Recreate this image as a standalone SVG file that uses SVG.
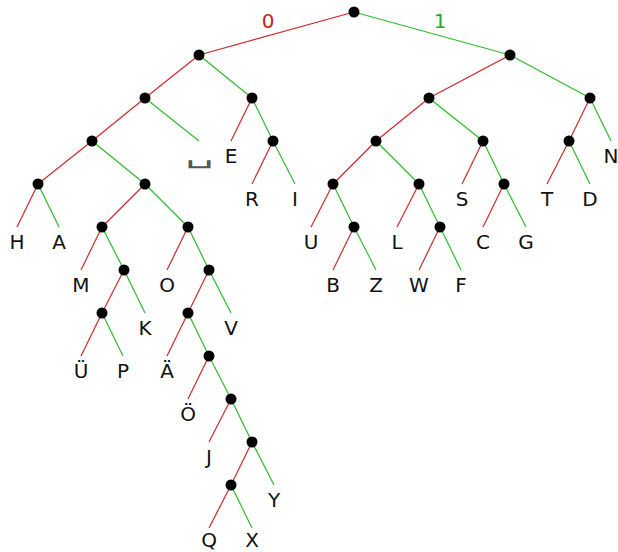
<svg xmlns="http://www.w3.org/2000/svg" width="618" height="552" viewBox="0 0 618 552">
<style>
.r{stroke:#cc2a2a;stroke-width:1.2;fill:none}
.g{stroke:#2cbb2c;stroke-width:1.2;fill:none}
.n{fill:#000}
text{font-family:"DejaVu Sans","Liberation Sans",sans-serif;font-size:20px;text-anchor:middle;fill:#111}
.sp{fill:#555}
.lr{fill:#cc2222}
.lg{fill:#22aa22}
</style>
<rect width="618" height="552" fill="#fff"/>
<g id="connectors">
<line class="r" x1="354" y1="12" x2="199" y2="55"/>
<line class="g" x1="354" y1="12" x2="510" y2="55"/>
<line class="r" x1="199" y1="55" x2="145" y2="98"/>
<line class="g" x1="199" y1="55" x2="252" y2="98"/>
<line class="r" x1="145" y1="98" x2="92" y2="141"/>
<line class="g" x1="145" y1="98" x2="199" y2="141"/>
<line class="r" x1="92" y1="141" x2="38" y2="184"/>
<line class="g" x1="92" y1="141" x2="145" y2="184"/>
<line class="r" x1="38" y1="184" x2="17" y2="227"/>
<line class="g" x1="38" y1="184" x2="59" y2="227"/>
<line class="r" x1="145" y1="184" x2="102" y2="227"/>
<line class="g" x1="145" y1="184" x2="188" y2="227"/>
<line class="r" x1="102" y1="227" x2="81" y2="270"/>
<line class="g" x1="102" y1="227" x2="124" y2="270"/>
<line class="r" x1="124" y1="270" x2="102" y2="313"/>
<line class="g" x1="124" y1="270" x2="145" y2="313"/>
<line class="r" x1="102" y1="313" x2="81" y2="356"/>
<line class="g" x1="102" y1="313" x2="123" y2="356"/>
<line class="r" x1="188" y1="227" x2="167" y2="270"/>
<line class="g" x1="188" y1="227" x2="209" y2="270"/>
<line class="r" x1="209" y1="270" x2="188" y2="313"/>
<line class="g" x1="209" y1="270" x2="231" y2="313"/>
<line class="r" x1="188" y1="313" x2="167" y2="356"/>
<line class="g" x1="188" y1="313" x2="209" y2="356"/>
<line class="r" x1="209" y1="356" x2="188" y2="399"/>
<line class="g" x1="209" y1="356" x2="231" y2="399"/>
<line class="r" x1="231" y1="399" x2="209" y2="442"/>
<line class="g" x1="231" y1="399" x2="252" y2="442"/>
<line class="r" x1="252" y1="442" x2="231" y2="485"/>
<line class="g" x1="252" y1="442" x2="274" y2="485"/>
<line class="r" x1="231" y1="485" x2="209" y2="528"/>
<line class="g" x1="231" y1="485" x2="252" y2="528"/>
<line class="r" x1="252" y1="98" x2="231" y2="141"/>
<line class="g" x1="252" y1="98" x2="273" y2="141"/>
<line class="r" x1="273" y1="141" x2="252" y2="184"/>
<line class="g" x1="273" y1="141" x2="295" y2="184"/>
<line class="r" x1="510" y1="55" x2="429" y2="98"/>
<line class="g" x1="510" y1="55" x2="590" y2="98"/>
<line class="r" x1="429" y1="98" x2="376" y2="141"/>
<line class="g" x1="429" y1="98" x2="483" y2="141"/>
<line class="r" x1="376" y1="141" x2="333" y2="184"/>
<line class="g" x1="376" y1="141" x2="419" y2="184"/>
<line class="r" x1="333" y1="184" x2="311" y2="227"/>
<line class="g" x1="333" y1="184" x2="354" y2="227"/>
<line class="r" x1="354" y1="227" x2="333" y2="270"/>
<line class="g" x1="354" y1="227" x2="376" y2="270"/>
<line class="r" x1="419" y1="184" x2="397" y2="227"/>
<line class="g" x1="419" y1="184" x2="440" y2="227"/>
<line class="r" x1="440" y1="227" x2="419" y2="270"/>
<line class="g" x1="440" y1="227" x2="461" y2="270"/>
<line class="r" x1="483" y1="141" x2="462" y2="184"/>
<line class="g" x1="483" y1="141" x2="504" y2="184"/>
<line class="r" x1="504" y1="184" x2="483" y2="227"/>
<line class="g" x1="504" y1="184" x2="526" y2="227"/>
<line class="r" x1="590" y1="98" x2="569" y2="141"/>
<line class="g" x1="590" y1="98" x2="611" y2="141"/>
<line class="r" x1="569" y1="141" x2="547" y2="184"/>
<line class="g" x1="569" y1="141" x2="590" y2="184"/>
<text class="lr" x="268" y="28">0</text>
<text class="lg" x="440" y="28">1</text>
</g>
<g id="root"><circle class="n" cx="354" cy="12" r="5.5"/></g>
<g id="n0"><circle class="n" cx="199" cy="55" r="5.5"/></g>
<g id="n00"><circle class="n" cx="145" cy="98" r="5.5"/></g>
<g id="n000"><circle class="n" cx="92" cy="141" r="5.5"/></g>
<g id="n0000"><circle class="n" cx="38" cy="184" r="5.5"/></g>
<g id="n0001"><circle class="n" cx="145" cy="184" r="5.5"/></g>
<g id="n00010"><circle class="n" cx="102" cy="227" r="5.5"/></g>
<g id="n000101"><circle class="n" cx="124" cy="270" r="5.5"/></g>
<g id="n0001010"><circle class="n" cx="102" cy="313" r="5.5"/></g>
<g id="n00011"><circle class="n" cx="188" cy="227" r="5.5"/></g>
<g id="n000111"><circle class="n" cx="209" cy="270" r="5.5"/></g>
<g id="n0001110"><circle class="n" cx="188" cy="313" r="5.5"/></g>
<g id="n00011101"><circle class="n" cx="209" cy="356" r="5.5"/></g>
<g id="n000111011"><circle class="n" cx="231" cy="399" r="5.5"/></g>
<g id="n0001110111"><circle class="n" cx="252" cy="442" r="5.5"/></g>
<g id="n00011101110"><circle class="n" cx="231" cy="485" r="5.5"/></g>
<g id="n01"><circle class="n" cx="252" cy="98" r="5.5"/></g>
<g id="n011"><circle class="n" cx="273" cy="141" r="5.5"/></g>
<g id="n1"><circle class="n" cx="510" cy="55" r="5.5"/></g>
<g id="n10"><circle class="n" cx="429" cy="98" r="5.5"/></g>
<g id="n100"><circle class="n" cx="376" cy="141" r="5.5"/></g>
<g id="n1000"><circle class="n" cx="333" cy="184" r="5.5"/></g>
<g id="n10001"><circle class="n" cx="354" cy="227" r="5.5"/></g>
<g id="n1001"><circle class="n" cx="419" cy="184" r="5.5"/></g>
<g id="n10011"><circle class="n" cx="440" cy="227" r="5.5"/></g>
<g id="n101"><circle class="n" cx="483" cy="141" r="5.5"/></g>
<g id="n1011"><circle class="n" cx="504" cy="184" r="5.5"/></g>
<g id="n11"><circle class="n" cx="590" cy="98" r="5.5"/></g>
<g id="n110"><circle class="n" cx="569" cy="141" r="5.5"/></g>
<g id="leaf-H"><text x="17" y="249">H</text></g>
<g id="leaf-A"><text x="59" y="249">A</text></g>
<g id="leaf-M"><text x="81" y="292">M</text></g>
<g id="leaf-UE"><text x="81" y="378">Ü</text></g>
<g id="leaf-P"><text x="123" y="378">P</text></g>
<g id="leaf-K"><text x="145" y="335">K</text></g>
<g id="leaf-O"><text x="167" y="292">O</text></g>
<g id="leaf-AE"><text x="167" y="378">Ä</text></g>
<g id="leaf-OE"><text x="188" y="421">Ö</text></g>
<g id="leaf-J"><text x="209" y="464">J</text></g>
<g id="leaf-Q"><text x="209" y="547">Q</text></g>
<g id="leaf-X"><text x="252" y="547">X</text></g>
<g id="leaf-Y"><text x="274" y="507">Y</text></g>
<g id="leaf-V"><text x="231" y="335">V</text></g>
<g id="leaf-space"><text class="sp" transform="translate(199,163) scale(2.2,1.2)" x="0" y="0">␣</text></g>
<g id="leaf-E"><text x="231" y="163">E</text></g>
<g id="leaf-R"><text x="252" y="206">R</text></g>
<g id="leaf-I"><text x="295" y="206">I</text></g>
<g id="leaf-U"><text x="311" y="249">U</text></g>
<g id="leaf-B"><text x="333" y="292">B</text></g>
<g id="leaf-Z"><text x="376" y="292">Z</text></g>
<g id="leaf-L"><text x="397" y="249">L</text></g>
<g id="leaf-W"><text x="419" y="292">W</text></g>
<g id="leaf-F"><text x="461" y="292">F</text></g>
<g id="leaf-S"><text x="462" y="206">S</text></g>
<g id="leaf-C"><text x="483" y="249">C</text></g>
<g id="leaf-G"><text x="526" y="249">G</text></g>
<g id="leaf-T"><text x="547" y="206">T</text></g>
<g id="leaf-D"><text x="590" y="206">D</text></g>
<g id="leaf-N"><text x="611" y="163">N</text></g>
</svg>
